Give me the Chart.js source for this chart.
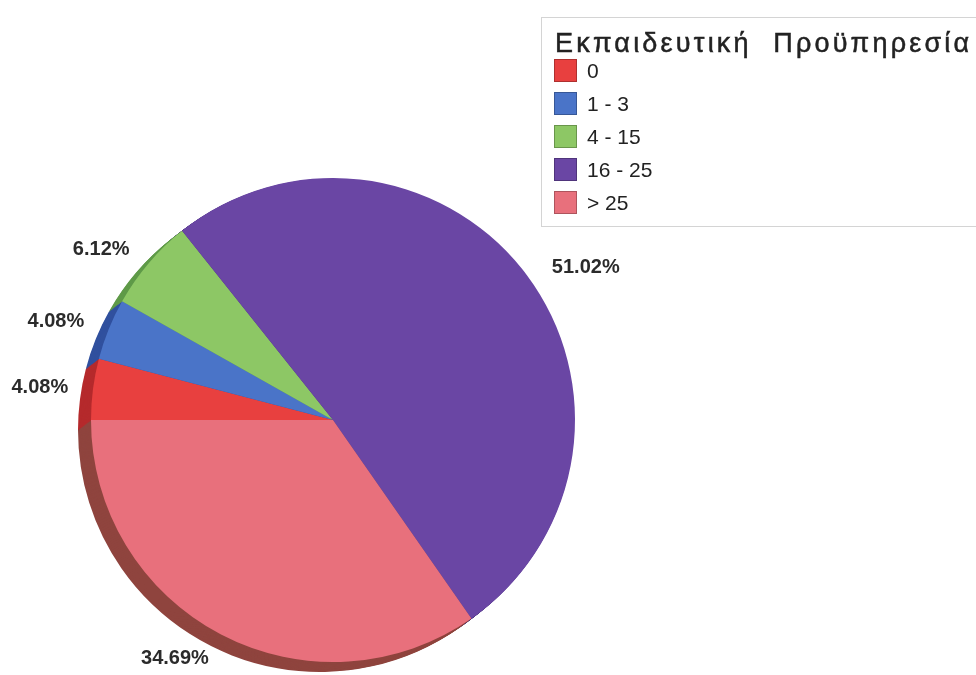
<!DOCTYPE html>
<html>
<head>
<meta charset="utf-8">
<script src="https://cdn.jsdelivr.net/npm/chart.js@4.4.0/dist/chart.umd.min.js"></script>
<style>
    body { margin: 0; background: #fff; }
    #wrap { position: relative; width: 976px; height: 675px; }
    #legend {
        position: absolute; left: 541px; top: 17px; width: 445px; height: 210px;
        border: 1px solid #d4d4d4; box-sizing: border-box;
        font-family: "Liberation Sans", Arial, sans-serif; color: #222;
    }
    #legend .title {
        position: absolute; left: 13px; top: 10px; font-size: 27px; letter-spacing: 3.2px;
        white-space: nowrap; line-height: 30px; -webkit-text-stroke: 0.5px #222;
    }
    #legend .item { position: absolute; left: 12px; height: 24px; }
    #legend .box {
        position: absolute; left: 0; top: 0; width: 23px; height: 23px;
        border: 1px solid rgba(0, 0, 0, 0.25); box-sizing: border-box;
    }
    #legend .text { position: absolute; left: 33px; top: 0; font-size: 21px; line-height: 24px; white-space: nowrap; }
</style>
</head>
<body>
<div id="wrap">
    <canvas id="pieChart" width="976" height="675"></canvas>
    <div id="legend"></div>
</div>
<script>
var legendTitle = 'Εκπαιδευτική  Προϋπηρεσία';
var categories = ['0', '1 - 3', '4 - 15', '16 - 25', '> 25'];
var percents = [4.08, 4.08, 6.12, 51.02, 34.69];

var faceColors = ['#e8403f', '#4a74c8', '#8dc765', '#6a46a4', '#e8707c'];
var sideColors = ['#b52a2c', '#30509e', '#5f9a48', '#46307a', '#8f443e'];
// label placement: turn (degrees) from the slice middle and gap past the rim
var labelTurn = [-1, -2.5, -4, 5.7, 6];
var labelGap = [53, 52, 46, 53, 44];

// legend box, built from the same arrays
var legend = document.getElementById('legend');
var html = '<div class="title">' + legendTitle.replace(/ /g, '&nbsp;') + '</div>';
for (var i = 0; i < categories.length; i++) {
    html += '<div class="item" style="top:' + (41 + i * 33) + 'px">' +
        '<div class="box" style="background:' + faceColors[i] + '"></div>' +
        '<div class="text">' + categories[i].replace('>', '&gt;') + '</div></div>';
}
legend.innerHTML = html;

// draws the thickness of the pie below and left of each slice
var depthPlugin = {
    id: 'depth',
    beforeDatasetsDraw: function (chart) {
        var ctx = chart.ctx;
        var arcs = chart.getDatasetMeta(0).data;
        var dx = -13, dy = 10, steps = 14;
        ctx.save();
        for (var s = steps; s >= 1; s--) {
            arcs.forEach(function (arc, i) {
                var p = arc.getProps(['x', 'y', 'startAngle', 'endAngle', 'outerRadius']);
                var ox = p.x + dx * s / steps, oy = p.y + dy * s / steps;
                ctx.beginPath();
                ctx.moveTo(ox, oy);
                ctx.arc(ox, oy, p.outerRadius, p.startAngle, p.endAngle);
                ctx.closePath();
                ctx.fillStyle = sideColors[i];
                ctx.fill();
            });
        }
        ctx.restore();
    }
};

// percentage labels outside each slice
var labelPlugin = {
    id: 'outerLabels',
    afterDatasetsDraw: function (chart) {
        var ctx = chart.ctx;
        var arcs = chart.getDatasetMeta(0).data;
        ctx.save();
        ctx.font = 'bold 20px "Liberation Sans", Arial, sans-serif';
        ctx.fillStyle = '#2b2b2b';
        ctx.textAlign = 'center';
        ctx.textBaseline = 'middle';
        arcs.forEach(function (arc, i) {
            var p = arc.getProps(['x', 'y', 'startAngle', 'endAngle', 'outerRadius']);
            var mid = (p.startAngle + p.endAngle) / 2 + labelTurn[i] * Math.PI / 180;
            var r = p.outerRadius + labelGap[i];
            ctx.fillText(percents[i].toFixed(2) + '%', p.x + Math.cos(mid) * r, p.y + Math.sin(mid) * r);
        });
        ctx.restore();
    }
};

new Chart(document.getElementById('pieChart'), {
    type: 'pie',
    data: {
        labels: categories,
        datasets: [{
            data: percents,
            backgroundColor: faceColors,
            borderWidth: 0
        }]
    },
    options: {
        responsive: false,
        animation: false,
        rotation: 270,
        layout: { padding: { left: 91, right: 401, top: 178, bottom: 13 } },
        plugins: {
            legend: { display: false },
            tooltip: { enabled: false }
        }
    },
    plugins: [depthPlugin, labelPlugin]
});
</script>
</body>
</html>
